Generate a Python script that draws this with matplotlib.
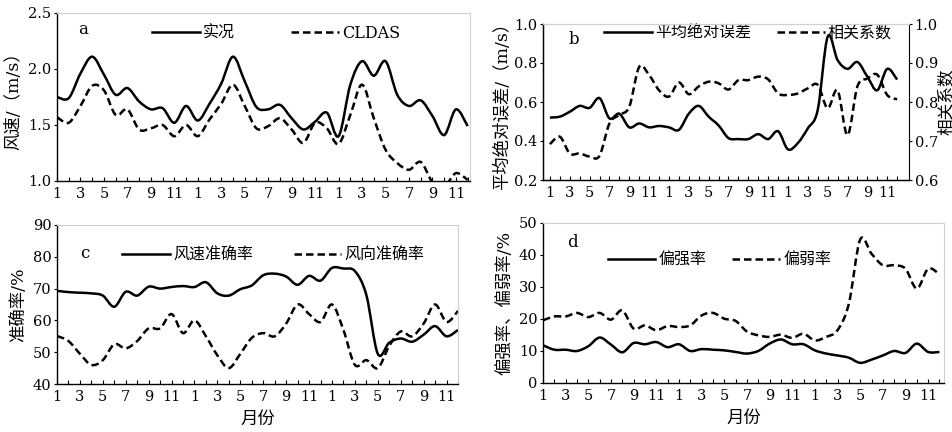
import matplotlib
matplotlib.use('Agg')
import matplotlib.pyplot as plt
from matplotlib.path import Path
from matplotlib.patches import PathPatch
from matplotlib.lines import Line2D
import numpy as np

plt.rcParams['font.family'] = ['DejaVu Serif', 'Noto Sans CJK SC']
plt.rcParams['font.size'] = 10

# 36 months: Jan of year 1 .. Dec of year 3
months = list(range(1, 13)) * 3
x = np.arange(len(months))

# a: wind speed (m/s)
obs_speed = [1.75, 1.74, 1.96, 2.11, 1.95, 1.77, 1.83, 1.71, 1.64, 1.65, 1.52, 1.67,
             1.54, 1.69, 1.87, 2.11, 1.89, 1.66, 1.64, 1.68, 1.56, 1.46, 1.53, 1.61,
             1.40, 1.86, 2.07, 1.94, 2.07, 1.77, 1.67, 1.72, 1.58, 1.41, 1.64, 1.49]
cldas_speed = [1.57, 1.52, 1.67, 1.85, 1.81, 1.59, 1.64, 1.46, 1.47, 1.50, 1.40, 1.50,
               1.40, 1.55, 1.69, 1.86, 1.67, 1.47, 1.49, 1.56, 1.46, 1.34, 1.52, 1.47,
               1.33, 1.59, 1.86, 1.56, 1.28, 1.16, 1.10, 1.17, 0.99, 0.95, 1.07, 1.01]

# b: mean absolute error (m/s) and correlation coefficient
mae = [0.52, 0.525, 0.55, 0.58, 0.57, 0.62, 0.516, 0.54, 0.47, 0.49, 0.47, 0.477,
       0.47, 0.457, 0.54, 0.58, 0.525, 0.48, 0.415, 0.41, 0.41, 0.435, 0.41, 0.45,
       0.357, 0.39, 0.465, 0.56, 0.935, 0.815, 0.77, 0.805, 0.73, 0.66, 0.77, 0.715]
corr = [0.692, 0.711, 0.668, 0.668, 0.66, 0.662, 0.745, 0.767, 0.788, 0.89, 0.869, 0.83,
        0.814, 0.85, 0.82, 0.84, 0.852, 0.848, 0.832, 0.856, 0.856, 0.865, 0.858, 0.822,
        0.818, 0.822, 0.835, 0.844, 0.784, 0.83, 0.715, 0.84, 0.86, 0.87, 0.818, 0.807]

# c: accuracy (%)
speed_acc = [69.3, 68.9, 68.7, 68.5, 67.8, 64.3, 69.0, 67.8, 70.6, 70.0, 70.5, 70.8,
             70.5, 72.0, 68.5, 67.8, 69.8, 71.0, 74.2, 74.7, 73.8, 71.2, 74.0, 72.5,
             76.5, 76.3, 75.5, 68.0, 49.5, 53.0, 54.3, 53.3, 55.5, 58.2, 55.0, 57.0]
dir_acc = [55.1, 53.5, 49.5, 46.0, 47.5, 52.5, 51.2, 53.5, 57.5, 57.5, 62.0, 56.0,
           60.0, 55.0, 49.0, 45.0, 49.5, 54.5, 56.0, 55.0, 59.0, 65.0, 62.0, 59.5,
           65.0, 57.0, 46.0, 47.5, 45.0, 52.0, 56.5, 55.0, 59.0, 65.0, 59.5, 63.0]

# d: over / under estimation rate (%)
strong_rate = [11.8, 10.4, 10.4, 10.0, 11.5, 14.2, 12.0, 9.6, 12.5, 12.1, 12.8, 11.2,
               12.1, 10.0, 10.6, 10.4, 10.2, 9.7, 9.2, 10.0, 12.3, 13.6, 12.1, 12.1,
               10.2, 9.2, 8.6, 7.9, 6.3, 7.3, 8.6, 10.0, 9.4, 12.3, 9.7, 9.7]
weak_rate = [19.6, 20.8, 20.8, 21.9, 20.6, 21.9, 19.8, 22.7, 17.0, 18.0, 16.5, 17.8,
             17.5, 18.0, 21.1, 21.9, 20.1, 19.4, 16.1, 14.9, 14.4, 15.1, 14.1, 15.4,
             13.3, 14.4, 16.5, 24.8, 44.8, 40.4, 36.8, 36.8, 35.7, 29.5, 35.7, 34.0]

W, H = 953, 432
fig = plt.figure(figsize=(W / 100, H / 100), dpi=100)


def box(left, top, right, bottom):
    return [left / W, 1 - bottom / H, (right - left) / W, (bottom - top) / H]


def smooth_line(ax, xs, ys, **kw):
    "Draw a smoothed line through the data points (Catmull-Rom as Bezier curves)."
    p = np.column_stack([xs, ys]).astype(float)
    q = np.vstack([p[:1], p, p[-1:]])
    verts = [p[0]]
    codes = [Path.MOVETO]
    for i in range(len(p) - 1):
        c1 = q[i + 1] + (q[i + 2] - q[i]) / 6
        c2 = q[i + 2] - (q[i + 3] - q[i + 1]) / 6
        verts += [c1, c2, q[i + 2]]
        codes += [Path.CURVE4] * 3
    patch = PathPatch(Path(verts, codes), fill=False, joinstyle='round', **kw)
    ax.add_patch(patch)
    return Line2D([], [], **kw)


def style_axis(ax, xlim):
    ax.set_xlim(*xlim)
    ax.set_xticks(x)
    ax.set_xticklabels([str(m) if m % 2 == 1 else '' for m in months])
    ax.tick_params(axis='x', direction='in', length=3, width=0.8, pad=4, labelsize=10.5)
    ax.tick_params(axis='y', direction='out', length=2, width=0.8, pad=2, labelsize=10.5)
    for s in ('top', 'right'):
        ax.spines[s].set_color('#d0d0d0')
        ax.spines[s].set_linewidth(0.8)
    ax.spines['left'].set_linewidth(1.0)
    ax.spines['bottom'].set_linewidth(1.0)


solid = dict(color='black', lw=1.8)
dashed = dict(color='black', lw=1.8, linestyle=(0, (3, 1.6)))
leg = dict(loc='center', ncol=2, frameon=False, handlelength=3.0,
           columnspacing=1.6, handletextpad=0.2, fontsize=11.5)
lab = 12.5

# panel a
ax = fig.add_axes(box(57, 13, 470, 181))
h1 = smooth_line(ax, x, obs_speed, **solid)
h2 = smooth_line(ax, x, cldas_speed, **dashed)
ax.set_ylim(1.0, 2.5)
ax.set_yticks([1.0, 1.5, 2.0, 2.5])
ax.set_yticklabels(['1.0', '1.5', '2.0', '2.5'])
style_axis(ax, (0, 35.2))
ax.set_ylabel('风速/（m/s）', labelpad=4, fontsize=lab)
ax.text(0.05, 0.9, 'a', transform=ax.transAxes, fontsize=12, va='center')
ax.legend([h1, h2], ['实况', 'CLDAS'], bbox_to_anchor=(0.53, 0.88),
          **{**leg, 'columnspacing': 3.5})

# panel b
ax = fig.add_axes(box(543, 24, 909, 180))
h1 = smooth_line(ax, x, mae, **solid)
ax.set_ylim(0.2, 1.0)
ax.set_yticks([0.2, 0.4, 0.6, 0.8, 1.0])
ax.set_yticklabels(['0.2', '0.4', '0.6', '0.8', '1.0'])
style_axis(ax, (-0.7, 36.2))
ax.set_ylabel('平均绝对误差/（m/s）', labelpad=2, fontsize=lab)
ax.text(0.07, 0.9, 'b', transform=ax.transAxes, fontsize=12, va='center')
ax2 = ax.twinx()
h2 = smooth_line(ax2, x, corr, **dashed)
ax2.set_ylim(0.6, 1.0)
ax2.set_yticks([0.6, 0.7, 0.8, 0.9, 1.0])
ax2.set_yticklabels(['0.6', '0.7', '0.8', '0.9', '1.0'])
ax2.tick_params(axis='y', direction='out', length=2, width=0.8, pad=2, labelsize=10.5)
ax2.spines['right'].set_color('black')
ax2.spines['top'].set_color('#d0d0d0')
ax2.set_ylabel('相关系数', labelpad=0, fontsize=12)
ax.legend([h1, h2], ['平均绝对误差', '相关系数'], bbox_to_anchor=(0.56, 0.94), **leg)

# panel c
ax = fig.add_axes(box(57, 225, 458, 384))
h1 = smooth_line(ax, x, speed_acc, **solid)
h2 = smooth_line(ax, x, dir_acc, **dashed)
ax.set_ylim(40, 90)
ax.set_yticks(range(40, 91, 10))
style_axis(ax, (0, 35))
ax.set_ylabel('准确率/%', labelpad=4, fontsize=lab)
ax.set_xlabel('月份', labelpad=5, fontsize=lab)
ax.text(0.057, 0.82, 'c', transform=ax.transAxes, fontsize=12, va='center')
ax.legend([h1, h2], ['风速准确率', '风向准确率'], bbox_to_anchor=(0.54, 0.81),
          **{**leg, 'columnspacing': 2.5})

# panel d
ax = fig.add_axes(box(543, 223, 944, 383))
h1 = smooth_line(ax, x, strong_rate, **solid)
h2 = smooth_line(ax, x, weak_rate, **dashed)
ax.set_ylim(0, 50)
ax.set_yticks(range(0, 51, 10))
style_axis(ax, (0, 35.4))
ax.set_ylabel('偏强率、偏弱率/%', labelpad=4, fontsize=lab)
ax.set_xlabel('月份', labelpad=5, fontsize=lab)
ax.text(0.06, 0.88, 'd', transform=ax.transAxes, fontsize=12, va='center')
ax.legend([h1, h2], ['偏强率', '偏弱率'], bbox_to_anchor=(0.44, 0.77), **leg)

fig.savefig('out.png', dpi=100)
